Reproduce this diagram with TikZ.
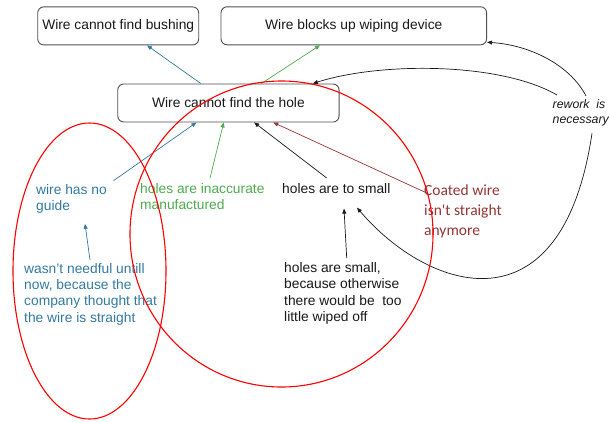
\documentclass[tikz,border=0pt]{standalone}
\usepackage{fontspec}
\setmainfont{Liberation Sans}
\newfontfamily\calibfont{Carlito}
\usetikzlibrary{arrows.meta,calc}
\definecolor{boxline}{RGB}{80,80,80}
\definecolor{ink}{RGB}{25,25,25}
\definecolor{guideblue}{RGB}{52,122,160}
\definecolor{inaccgreen}{RGB}{78,172,78}
\definecolor{coatred}{RGB}{148,54,52}
\begin{document}
\begin{tikzpicture}[x=1pt,y=-1pt,
  box/.style={draw=boxline, line width=0.9pt, rounded corners=6pt,
    minimum height=38pt, inner sep=0pt, text=ink,
    font=\fontsize{13.8}{16}\selectfont},
  note/.style={anchor=north west, inner sep=0pt, align=left,
    font=\fontsize{13.8}{16.2}\selectfont},
  tip/.style={-{Triangle[length=5pt,width=4pt]}, line width=0.7pt},
  ring/.style={draw=red, line width=1.1pt}]
\fill[white] (0,0) rectangle (609,421);
\useasboundingbox (0,0) rectangle (609,421);

% effects
\node[box, minimum width=161pt]   (bushing) at (118.2,25.9) {Wire cannot find bushing};
\node[box, minimum width=265.6pt] (block)   at (353.8,25.8) {Wire blocks up wiping device};
% central failure
\node[box, minimum width=221.3pt] (hole)    at (228.4,103)  {Wire cannot find the hole};

% causes
\node[note, text=guideblue]  (guide)   at (36,184.1)  {wire has no\\guide};
\node[note, text=inaccgreen] (inacc)   at (140,183.4) {holes are inaccurate\\manufactured};
\node[note, text=ink]        (small)   at (282,183.4) {holes are to small};
\node[note, text=coatred, font=\calibfont\fontsize{15.5}{20}\selectfont]
                             (coated)  at (424,184.1) {Coated wire\\isn't straight\\anymore};
\node[note, text=guideblue]  (needful) at (24,263.3)  {wasn't needful untill\\now, because the\\company thought that\\the wire is straight};
\node[note, text=ink]        (wiped)   at (284,262.4) {holes are small,\\because otherwise\\there would be\ \ too\\little wiped off};
\node[note, text=ink, font=\itshape\fontsize{12.3}{15}\selectfont]
                             (rework)  at (552.5,99.4) {rework\ \ is\\necessary};

% hole -> effects
\draw[tip, guideblue]  ($(hole.north west)!0.376!(hole.north east)$) -- ($(bushing.south west)!0.678!(bushing.south east)$);
\draw[tip, inaccgreen] ($(hole.north west)!0.648!(hole.north east)$) -- ($(block.south west)!0.373!(block.south east)$);

% causes -> hole
\draw[tip, guideblue]  ($(guide.north east)+(6.5,-3.4)$)  -- ($(hole.south west)!0.356!(hole.south east)$);
\draw[tip, inaccgreen] ($(inacc.north west)+(70,-5.4)$)   -- ($(hole.south west)!0.479!(hole.south east)$);
\draw[tip, ink]        ($(small.north west)+(44.7,-5.4)$) -- ($(hole.south west)!0.616!(hole.south east)$);
\draw[tip, coatred]    ($(coated.north west)+(2.7,8.9)$)  -- ($(hole.south west)!0.702!(hole.south east)$);

% deeper causes
\draw[tip, guideblue] ($(needful.north west)+(66,-3.3)$) -- ($(guide.south west)+(49,10.3)$);
\draw[tip, ink]       ($(wiped.north west)+(62.7,-4.4)$) -- ($(small.south west)+(62,14.7)$);

% rework loops
\draw[tip, ink] ($(rework.north west)+(4.5,-4.4)$) .. controls (500,62) and (380,62) .. ($(hole.north west)!0.88!(hole.north east)$);
\draw[tip, ink] ($(rework.north west)+(33.5,-3.4)$) .. controls (570,65) and (530,45) .. ($(block.south east)+(0,-3)$);
\draw[tip, ink] ($(rework.south west)+(39.5,7)$) .. controls (562,336) and (428,291) .. ($(small.south west)+(75,13.7)$);

% groupings
\draw[ring] (89.5,271) ellipse [x radius=76.5pt, y radius=148pt];
\draw[ring] (281.5,234) ellipse [x radius=151.5pt, y radius=153pt];
\end{tikzpicture}
\end{document}
